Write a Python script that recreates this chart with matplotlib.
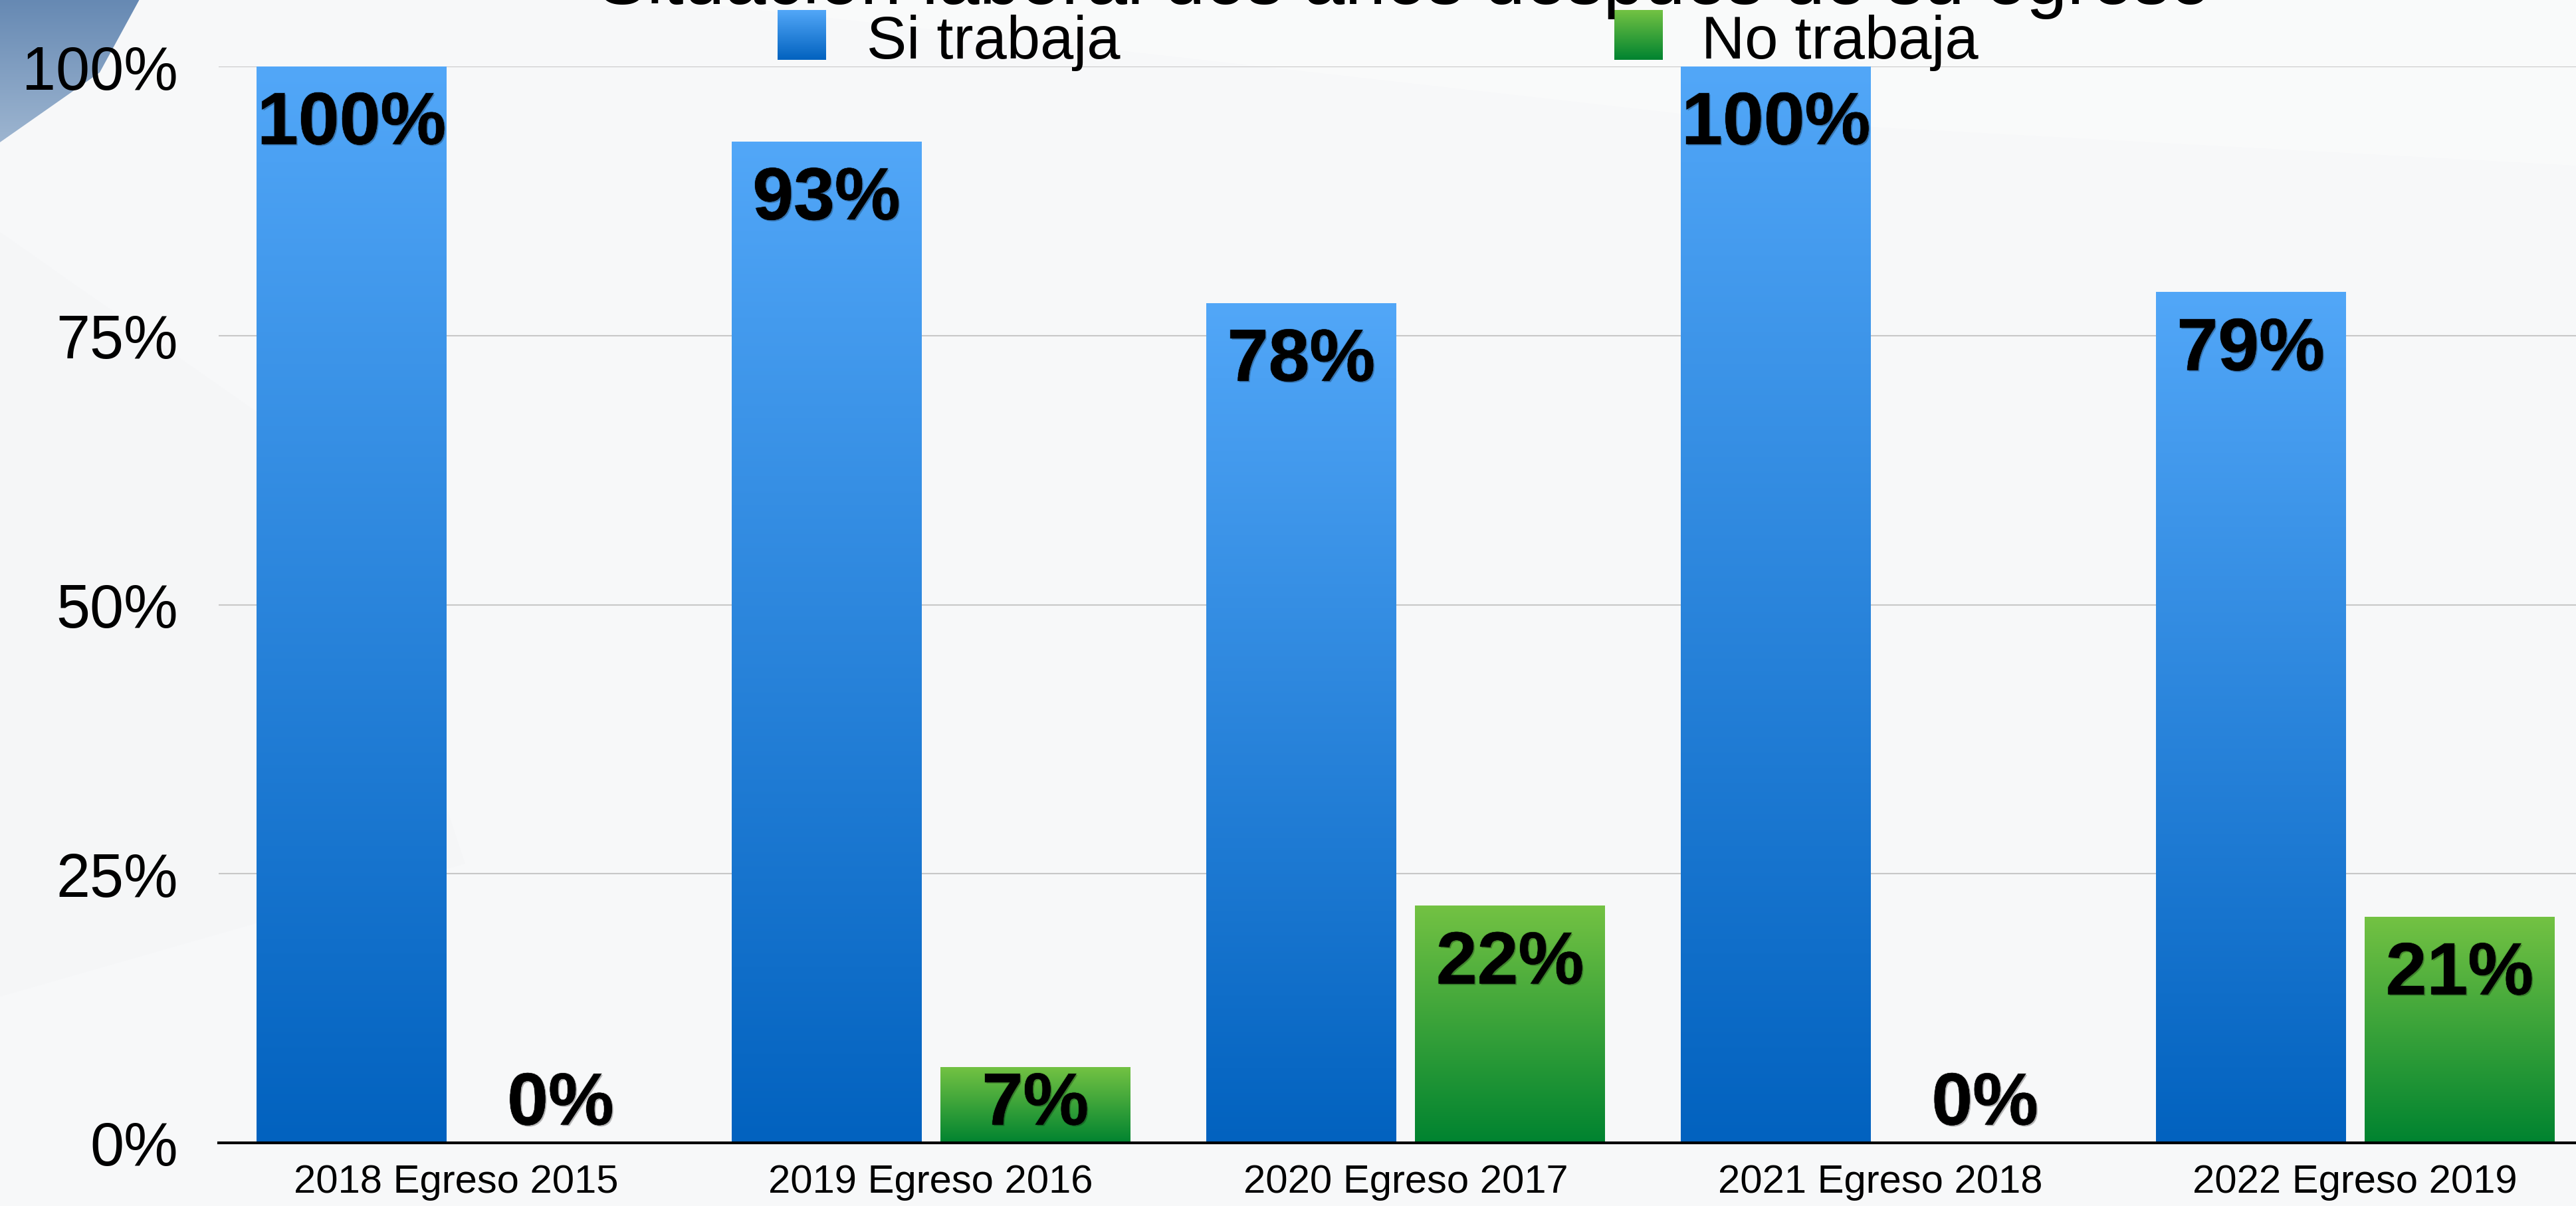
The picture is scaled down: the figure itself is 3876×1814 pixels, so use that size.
import numpy as np
import matplotlib
matplotlib.use("Agg")
import matplotlib.pyplot as plt
import matplotlib.patheffects as pe
from matplotlib.patches import Polygon
from matplotlib.colors import to_rgb

plt.rcParams['font.family'] = ['Liberation Sans', 'DejaVu Sans']

# data
categories = ["2018 Egreso 2015", "2019 Egreso 2016", "2020 Egreso 2017",
              "2021 Egreso 2018", "2022 Egreso 2019"]
si_trabaja = [100, 93, 78, 100, 79]
no_trabaja = [0, 7, 22, 0, 21]
series_names = ["Si trabaja", "No trabaja"]
yticks = [0, 25, 50, 75, 100]
title = "Situación laboral dos años después de su egreso"

W, H = 3876, 1815
DPI = 100
blue_top, blue_bot = "#52A7F8", "#0262BF"
green_top, green_bot = "#73C243", "#008330"


def grad(top, bot, n=256):
    t = np.linspace(0, 1, n)[:, None, None]
    a = np.array(to_rgb(top))[None, None, :]
    b = np.array(to_rgb(bot))[None, None, :]
    return a * (1 - t) + b * t


fig = plt.figure(figsize=(W / DPI, H / DPI), dpi=DPI)
fig.patch.set_facecolor("#F7F8F9")

# background decoration (pixel coords)
bg = fig.add_axes([0, 0, 1, 1], zorder=-10)
bg.set_xlim(0, W)
bg.set_ylim(H, 0)
bg.axis("off")
bg.add_patch(Polygon([[1000, 0], [W, 0], [W, 250], [2600, 180]],
                     closed=True, facecolor="white", alpha=0.3, lw=0))
bg.add_patch(Polygon([[0, 350], [500, 700], [700, 1300], [0, 1500]],
                     closed=True, facecolor="#F4F5F7", alpha=0.5, lw=0))
tri = Polygon([[0, 0], [210, 0], [150, 110], [0, 215]], closed=True,
              facecolor="none", lw=0)
bg.add_patch(tri)
im = bg.imshow(grad("#6689B3", "#9DB5D0"), extent=[0, 215, 215, 0],
               aspect="auto", zorder=1)
im.set_clip_path(tri)

# main axes
ax = fig.add_axes([329 / W, 95 / H, 3572 / W, 1619 / H])
ax.patch.set_alpha(0)
x = np.arange(len(categories))
bw = 0.40
off = 0.22
bars_si = ax.bar(x - off, si_trabaja, width=bw, color="none", lw=0, zorder=3)
bars_no = ax.bar(x + off, no_trabaja, width=bw, color="none", lw=0, zorder=3)

for bars, (ct, cb) in [(bars_si, (blue_top, blue_bot)),
                       (bars_no, (green_top, green_bot))]:
    for p in bars:
        h = p.get_height()
        if h <= 0:
            continue
        x0 = p.get_x()
        ax.imshow(grad(ct, cb), extent=[x0, x0 + p.get_width(), 0, h],
                  aspect="auto", zorder=3, interpolation="bilinear")

ax.set_xlim(-0.5, len(categories) - 0.5)
ax.set_ylim(0, 100)

# value labels, soft shadow
fx = [pe.withSimplePatchShadow(offset=(1.5, -1.5), shadow_rgbFace="black", alpha=0.25),
      pe.Stroke(linewidth=1.5, foreground=(0, 0, 0, 0.2)), pe.Normal()]
for bars, vals in [(bars_si, si_trabaja), (bars_no, no_trabaja)]:
    for p, v in zip(bars, vals):
        yb = max(v - 7.2, 1.7)
        ax.text(p.get_x() + p.get_width() / 2, yb, f"{v}%", ha="center",
                va="baseline", fontsize=80, fontweight="bold", color="black",
                zorder=5, path_effects=fx)

ax.set_yticks(yticks)
ax.set_yticklabels([f"{t}%" for t in yticks])
ax.set_xticks(x)
ax.set_xticklabels(categories)
ax.tick_params(axis="y", length=0, pad=44, labelsize=66)
ax.tick_params(axis="x", length=0, pad=22, labelsize=43)
for t in yticks[1:]:
    ax.axhline(t, color="#C8C8C8", lw=1.5, zorder=1)
for s in ["top", "right", "left"]:
    ax.spines[s].set_visible(False)
ax.spines["bottom"].set_linewidth(3)
ax.spines["bottom"].set_color("black")
ax.spines["bottom"].set_zorder(6)

# title (mostly cut off at the top, as in the source slide)
fig.text(2113 / W, 1 - 6 / H, title, ha="center", va="baseline", fontsize=80)

# legend drawn by hand so the swatches can carry the gradient
leg = [(1170, series_names[0], blue_top, blue_bot, 1304),
       (2429, series_names[1], green_top, green_bot, 2560)]
for sx, name, ct, cb, tx in leg:
    sw = fig.add_axes([sx / W, 1 - 91 / H, 73 / W, 75 / H])
    sw.imshow(grad(ct, cb), aspect="auto")
    sw.axis("off")
    fig.text(tx / W, 1 - 88 / H, name, ha="left", va="baseline", fontsize=65)

fig.savefig("out.png", dpi=DPI, facecolor=fig.get_facecolor())
